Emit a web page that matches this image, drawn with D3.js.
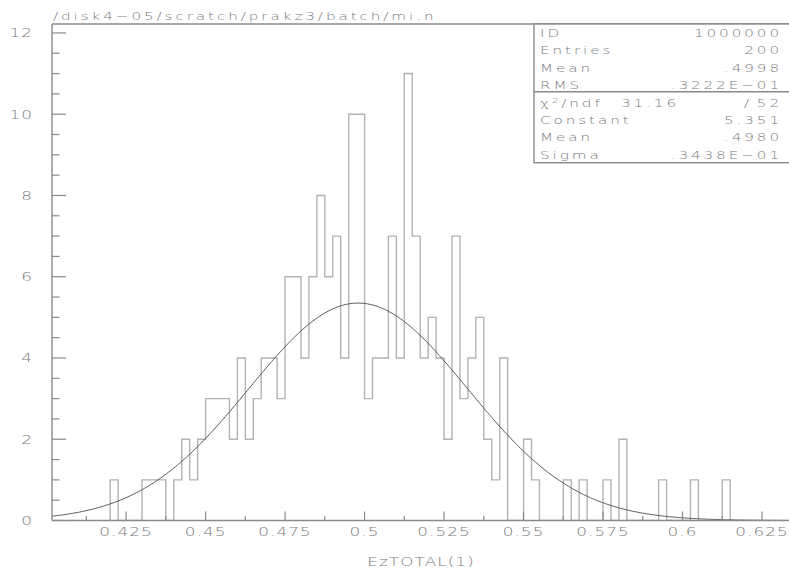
<!DOCTYPE html>
<html>
<head>
<meta charset="utf-8">
<script src="https://cdn.jsdelivr.net/npm/d3@7"></script>
<style>
  html, body { margin: 0; padding: 0; background: #fff; }
  svg { display: block; }
  text { font-family: "DejaVu Sans", sans-serif; }
</style>
</head>
<body>
<div id="chart"></div>
<script>
// Histogram of EzTOTAL(1): 0.0025-wide bins starting at 0.42
const binStart = 0.42;
const binWidth = 0.0025;
const counts = [
  1, 0, 0, 0, 1, 1, 1, 0, 1, 2, 1, 2,
  3, 3, 3, 2, 4, 2, 3, 4, 4, 3, 6, 6,
  4, 6, 8, 6, 7, 4, 10, 10, 3, 4, 4, 7,
  4, 11, 7, 4, 5, 4, 2, 7, 3, 4, 5, 2,
  1, 4, 0, 0, 2, 1, 0, 0, 0, 1, 0, 1,
  0, 0, 1, 0, 2, 0, 0, 0, 0, 1, 0, 0,
  0, 1, 0, 0, 0, 1
];

// Axis limits of the plot frame
const xLimits = [0.4017, 0.6338];
const yLimits = [0, 12.22];

// Tick values and labels
const xMajorTicks = [0.425, 0.45, 0.475, 0.5, 0.525, 0.55, 0.575, 0.6, 0.625];
const xTickLabels = ["0.425", "0.45", "0.475", "0.5", "0.525", "0.55", "0.575", "0.6", "0.625"];
const xMinorTicks = [0.4125, 0.4375, 0.4625, 0.4875, 0.5125, 0.5375, 0.5625, 0.5875, 0.6125];
const yMajorTicks = [0, 2, 4, 6, 8, 10, 12];
const yMinorTicks = [0.5, 1, 1.5, 2.5, 3, 3.5, 4.5, 5, 5.5, 6.5, 7, 7.5, 8.5, 9, 9.5, 10.5, 11, 11.5];

// Gaussian fit parameters
const fitConstant = 5.351;
const fitMean = 0.4980;
const fitSigma = 0.03438;

// Statistics box rows
const statLabels = ["ID", "Entries", "Mean", "RMS"];
const statValues = ["1000000", "200", ".4998", ".3222E\u221201"];
const fitLabels = ["Constant", "Mean", "Sigma"];
const fitValues = ["5.351", ".4980", ".3438E\u221201"];
const chi2Value = "31.16";
const ndfValue = "52";

const pathTitle = "/disk4\u221205/scratch/prakz3/batch/mi.n";
const xTitle = "EzTOTAL(1)";

const W = 789, H = 569;
const frame = { left: 52, top: 24, right: 790, bottom: 520.5 };

const svg = d3.select("#chart").append("svg")
  .attr("width", W).attr("height", H);

const x = d3.scaleLinear().domain(xLimits).range([frame.left, frame.right]);
const y = d3.scaleLinear().domain(yLimits).range([frame.bottom, frame.top]);

const axisColor = "#8a8a8a";
const textColor = "#7a7a7a";

// Wide, thin lettering: glyphs are stretched horizontally
function wideText(parent, px, py, str, o) {
  const g = parent.append("g")
    .attr("transform", `translate(${px},${py}) scale(${o.sx},1)`);
  const t = g.append("text")
    .attr("x", 0).attr("y", 0)
    .attr("text-anchor", o.anchor || "start")
    .attr("font-size", o.size)
    .attr("font-weight", o.weight || 300)
    .attr("letter-spacing", o.ls || 0)
    .attr("fill", o.fill || textColor)
    .text(str);
  return t;
}

svg.append("defs").append("clipPath").attr("id", "plotClip")
  .append("rect")
  .attr("x", frame.left).attr("y", frame.top)
  .attr("width", frame.right - frame.left)
  .attr("height", frame.bottom - frame.top);

// Histogram outline as a step line
const bins = counts.map((c, i) => ({ x0: binStart + i * binWidth, x1: binStart + (i + 1) * binWidth, c }));
const pts = [];
pts.push([bins[0].x0, 0]);
bins.forEach(b => { pts.push([b.x0, b.c]); pts.push([b.x1, b.c]); });
pts.push([bins[bins.length - 1].x1, 0]);
svg.append("path")
  .attr("d", d3.line().x(d => x(d[0])).y(d => y(d[1]))(pts))
  .attr("fill", "none")
  .attr("stroke", "#b3b3b3")
  .attr("stroke-width", 1.4)
  .attr("clip-path", "url(#plotClip)");

// Fitted Gaussian
const curveX = d3.range(0, 401).map(i => xLimits[0] + (xLimits[1] - xLimits[0]) * i / 400);
const gauss = v => fitConstant * Math.exp(-0.5 * Math.pow((v - fitMean) / fitSigma, 2));
svg.append("path")
  .attr("d", d3.line().x(v => x(v)).y(v => y(gauss(v)))(curveX))
  .attr("fill", "none")
  .attr("stroke", "#5a5a5a")
  .attr("stroke-width", 1)
  .attr("clip-path", "url(#plotClip)");

// Frame: left and top edges
const fr = svg.append("g").attr("stroke", axisColor).attr("stroke-width", 1.4).attr("fill", "none");
fr.append("line").attr("x1", frame.left).attr("x2", frame.right).attr("y1", frame.top).attr("y2", frame.top);
fr.append("line").attr("x1", frame.left).attr("x2", frame.left).attr("y1", frame.top).attr("y2", frame.bottom);
fr.append("line").attr("x1", frame.left).attr("x2", frame.right).attr("y1", frame.bottom).attr("y2", frame.bottom);

// X axis ticks (pointing into the plot)
const xt = svg.append("g").attr("stroke", axisColor).attr("stroke-width", 1.2);
xMajorTicks.forEach(v => xt.append("line").attr("x1", x(v)).attr("x2", x(v)).attr("y1", frame.bottom).attr("y2", frame.bottom - 9));
xMinorTicks.forEach(v => xt.append("line").attr("x1", x(v)).attr("x2", x(v)).attr("y1", frame.bottom).attr("y2", frame.bottom - 4.5));

// Y axis ticks
const yt = svg.append("g").attr("stroke", axisColor).attr("stroke-width", 1.2);
yMajorTicks.forEach(v => yt.append("line").attr("x1", frame.left).attr("x2", frame.left + 14).attr("y1", y(v)).attr("y2", y(v)));
yMinorTicks.forEach(v => yt.append("line").attr("x1", frame.left).attr("x2", frame.left + 7.5).attr("y1", y(v)).attr("y2", y(v)));

// Tick labels
const tickFont = { size: 12.5, sx: 1.35, ls: 0.8, anchor: "middle" };
xMajorTicks.forEach((v, i) => wideText(svg, x(v), 535.5, xTickLabels[i], tickFont));
yMajorTicks.forEach(v => wideText(svg, 33, y(v) + 4.5, String(v), Object.assign({}, tickFont, { anchor: "end" })));

// Axis title
wideText(svg, (frame.left + frame.right) / 2, 566, xTitle, tickFont);

// Path title above the frame
wideText(svg, 53, 19.5, pathTitle, { size: 10.5, sx: 1.45, ls: 2 });

// Statistics box
const box = { left: 534, top: frame.top, bottom: 162.7, sep: 91.7, right: 800 };
const bx = svg.append("g");
bx.append("rect")
  .attr("x", box.left).attr("y", box.top)
  .attr("width", box.right - box.left).attr("height", box.bottom - box.top)
  .attr("fill", "#fff").attr("stroke", axisColor).attr("stroke-width", 1.4);
bx.append("line").attr("x1", box.left).attr("x2", box.right).attr("y1", box.sep).attr("y2", box.sep)
  .attr("stroke", axisColor).attr("stroke-width", 1.4);

const boxFont = { size: 10.5, sx: 1.45, ls: 2 };
const labelX = 540, valueX = 782;
const statBase = [36.7, 54.3, 71.7, 89];
statLabels.forEach((s, i) => wideText(bx, labelX, statBase[i], s, boxFont));
statValues.forEach((s, i) => wideText(bx, valueX, statBase[i], s, Object.assign({}, boxFont, { anchor: "end" })));

// chi-square row
const chiRow = 107;
const chiT = wideText(bx, labelX, chiRow, "", boxFont);
chiT.append("tspan").text("\u03c7");
chiT.append("tspan").attr("dy", -4).attr("font-size", 7).text("2");
chiT.append("tspan").attr("dy", 4).text("/ndf");
wideText(bx, 679, chiRow, chi2Value, Object.assign({}, boxFont, { anchor: "end" }));
wideText(bx, 748, chiRow, "/", Object.assign({}, boxFont, { anchor: "middle" }));
wideText(bx, valueX, chiRow, ndfValue, Object.assign({}, boxFont, { anchor: "end" }));

const fitBase = [124, 141, 158.5];
fitLabels.forEach((s, i) => wideText(bx, labelX, fitBase[i], s, boxFont));
fitValues.forEach((s, i) => wideText(bx, valueX, fitBase[i], s, Object.assign({}, boxFont, { anchor: "end" })));
</script>
</body>
</html>
